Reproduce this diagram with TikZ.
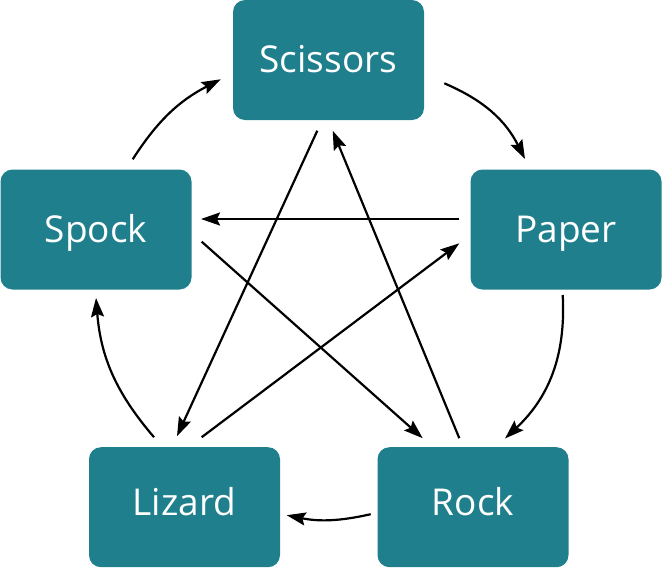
\documentclass[tikz,border=0pt]{standalone}
\usepackage{fontspec}
\setmainfont{Open Sans}
\usetikzlibrary{arrows.meta,calc}
\definecolor{boxteal}{RGB}{31,127,140}
\tikzset{
  rpsbox/.style={fill=boxteal, rounded corners=12pt, minimum width=191pt, minimum height=120pt,
    inner sep=0pt, text=white, font=\fontsize{37}{40}\selectfont, text height=26.5pt, text depth=1pt},
  lowbox/.style={rpsbox, text depth=9pt},
  conn/.style={line width=2.2pt, -{Stealth[length=19pt,width=13pt,inset=3pt]}},
}
\begin{document}
\begin{tikzpicture}[x=1pt,y=-1pt]
\useasboundingbox (0,0) rectangle (662,568);
\node[rpsbox] (scissors) at (328.5,60) {Scissors};
\node[rpsbox] (spock) at (96,229.5) {Spock};
\node[rpsbox] (paper) at (566,229.5) {Paper};
\node[lowbox] (lizard) at (184.5,507.2) {Lizard};
\node[lowbox] (rock) at (473,507.2) {Rock};
% outer cycle
\draw[conn] ([shift={(115.8,23.3)}]scissors.center) to[bend left=20] ([shift={(-41,-70.5)}]paper.center);
\draw[conn] ([shift={(-3.3,65.5)}]paper.center) to[bend left=25] ([shift={(32,-68.7)}]rock.center);
\draw[conn] ([shift={(-102.3,7)}]rock.center) to[bend left=12] ([shift={(102.2,8)}]lizard.center);
\draw[conn] ([shift={(-30.5,-70)}]lizard.center) to[bend left=18] ([shift={(0,68.5)}]spock.center);
\draw[conn] ([shift={(36.7,-70.2)}]spock.center) to[bend left=15] ([shift={(-107.8,19.3)}]scissors.center);
% star
\draw[conn] ([shift={(-106.7,-10.5)}]paper.center) -- ([shift={(105,-10.5)}]spock.center);
\draw[conn] ([shift={(105.7,12.2)}]spock.center) -- ([shift={(-50.3,-69)}]rock.center);
\draw[conn] ([shift={(-13.7,-69)}]rock.center) -- ([shift={(4.2,70.7)}]scissors.center);
\draw[conn] ([shift={(-11.2,70.7)}]scissors.center) -- ([shift={(-7.5,-71)}]lizard.center);
\draw[conn] ([shift={(17.2,-70)}]lizard.center) -- ([shift={(-106.7,13.8)}]paper.center);
\end{tikzpicture}
\end{document}
